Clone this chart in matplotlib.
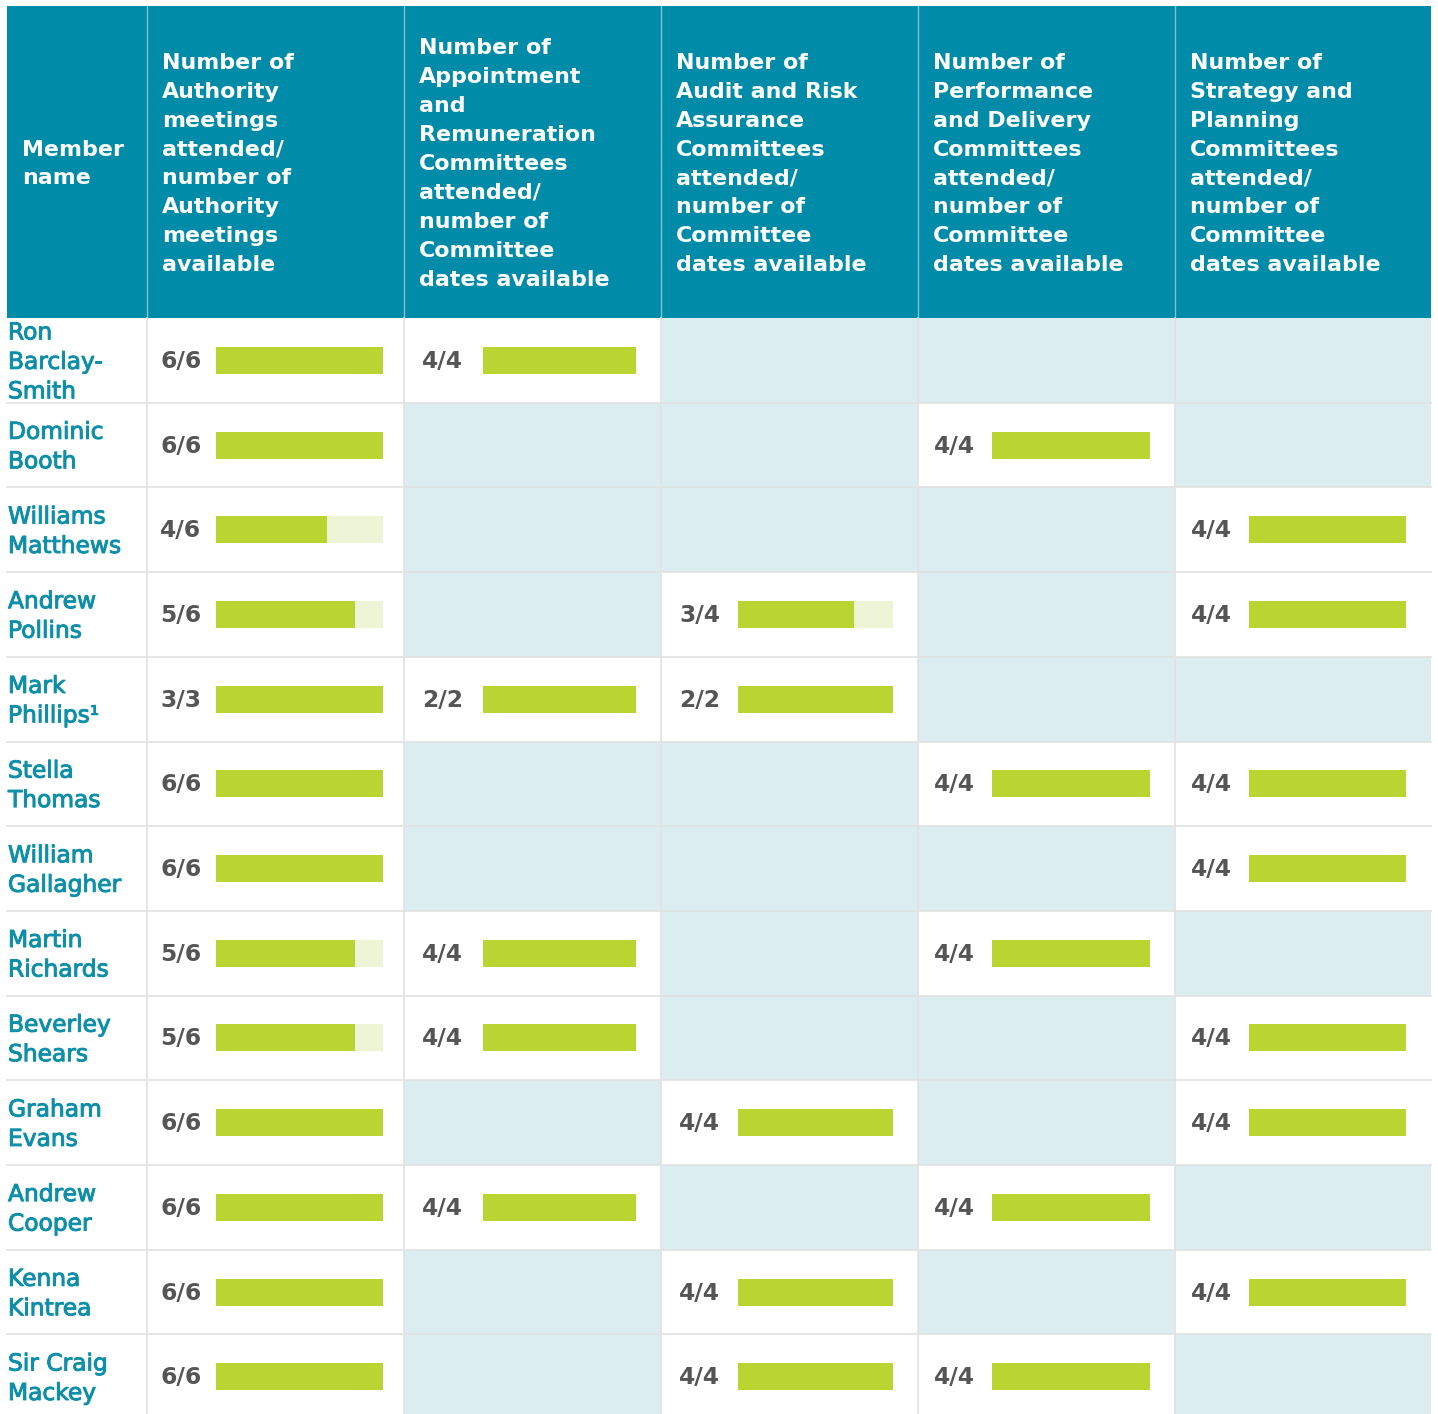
import matplotlib
matplotlib.use("Agg")
import matplotlib.pyplot as plt
import matplotlib.patheffects as pe
from matplotlib.patches import Rectangle

# ---- data -------------------------------------------------------------
NAMES = [
    "Ron\nBarclay-\nSmith", "Dominic\nBooth", "Williams\nMatthews", "Andrew\nPollins",
    "Mark\nPhillips\u00b9", "Stella\nThomas", "William\nGallagher", "Martin\nRichards",
    "Beverley\nShears", "Graham\nEvans", "Andrew\nCooper", "Kenna\nKintrea",
    "Sir Craig\nMackey",
]
HEADERS = [
    "Member\nname",
    "Number of\nAuthority\nmeetings\nattended/\nnumber of\nAuthority\nmeetings\navailable",
    "Number of\nAppointment\nand\nRemuneration\nCommittees\nattended/\nnumber of\nCommittee\ndates available",
    "Number of\nAudit and Risk\nAssurance\nCommittees\nattended/\nnumber of\nCommittee\ndates available",
    "Number of\nPerformance\nand Delivery\nCommittees\nattended/\nnumber of\nCommittee\ndates available",
    "Number of\nStrategy and\nPlanning\nCommittees\nattended/\nnumber of\nCommittee\ndates available",
]
# (attended, available); None = not a member of that committee
authority = [(6, 6), (6, 6), (4, 6), (5, 6), (3, 3), (6, 6), (6, 6),
             (5, 6), (5, 6), (6, 6), (6, 6), (6, 6), (6, 6)]
appointment = [(4, 4), None, None, None, (2, 2), None, None,
               (4, 4), (4, 4), None, (4, 4), None, None]
audit = [None, None, None, (3, 4), (2, 2), None, None,
         None, None, (4, 4), None, (4, 4), (4, 4)]
performance = [None, (4, 4), None, None, None, (4, 4), None,
               (4, 4), None, None, (4, 4), None, (4, 4)]
strategy = [None, None, (4, 4), (4, 4), None, (4, 4), (4, 4),
            None, (4, 4), (4, 4), None, (4, 4), None]
COLUMNS = [authority, appointment, audit, performance, strategy]

# ---- style ------------------------------------------------------------
HEAD_BG = "#008ca8"
EMPTY_BG = "#dcedf1"
GREEN = "#bad532"
PALE = "#eef5d6"
NAME_C = "#0e8fa9"
VAL_C = "#555555"
LINE_C = "#e2e2e2"
FONT = "DejaVu Sans"

W, H = 1438, 1414
COL_X = [7, 147, 404, 661, 918, 1175, 1431]
HEAD_TOP, HEAD_BOT = 6, 318
ROW_H = 84.7
TEXT_PAD = [13, 18, 18, 16, 16]
BAR_START = [69, 79, 77, 74, 74]
BAR_END = [21, 25, 25, 25, 25]
BAR_H = 27

fig = plt.figure(figsize=(W / 100, H / 100), dpi=100)
ax = fig.add_axes([0, 0, 1, 1])
ax.set_xlim(0, W)
ax.set_ylim(H, 0)
ax.axis("off")

# header
for j, lab in enumerate(HEADERS):
    x0, x1 = COL_X[j], COL_X[j + 1]
    ax.add_patch(Rectangle((x0, HEAD_TOP), x1 - x0, HEAD_BOT - HEAD_TOP,
                           facecolor=HEAD_BG, edgecolor="none"))
    ax.text(x0 + 15, (HEAD_TOP + HEAD_BOT) / 2 + 2, lab,
            color="white", fontsize=15.9, fontweight="bold", family=FONT,
            ha="left", va="center", linespacing=1.56)
for x in COL_X[1:-1]:
    ax.plot([x, x], [HEAD_TOP, HEAD_BOT], color="#7fc3d2", lw=1)

# body
n = len(NAMES)
thicken = [pe.withStroke(linewidth=0.7, foreground=NAME_C)]
for i, name in enumerate(NAMES):
    y0 = HEAD_BOT + i * ROW_H
    yc = y0 + ROW_H / 2
    ax.text(COL_X[0] + 1, yc + 2, name, color=NAME_C, fontsize=16.8,
            family=FONT, ha="left", va="center", linespacing=1.36,
            path_effects=thicken)
    for j, col in enumerate(COLUMNS):
        x0, x1 = COL_X[j + 1], COL_X[j + 2]
        val = col[i]
        if val is None:
            ax.add_patch(Rectangle((x0, y0), x1 - x0, ROW_H,
                                   facecolor=EMPTY_BG, edgecolor="none"))
            continue
        att, avail = val
        ax.text(x0 + TEXT_PAD[j], yc + 1, f"{att}/{avail}", color=VAL_C,
                fontsize=16.8, fontweight="bold", family=FONT,
                ha="left", va="center")
        bx0, bx1 = x0 + BAR_START[j], x1 - BAR_END[j]
        ax.add_patch(Rectangle((bx0, yc - BAR_H / 2), bx1 - bx0, BAR_H,
                               facecolor=PALE, edgecolor="none"))
        ax.add_patch(Rectangle((bx0, yc - BAR_H / 2), (bx1 - bx0) * att / avail,
                               BAR_H, facecolor=GREEN, edgecolor="none"))

# grid lines
for i in range(1, n + 1):
    y = HEAD_BOT + i * ROW_H
    ax.plot([COL_X[0], COL_X[-1]], [y, y], color=LINE_C, lw=1.2, zorder=5)
for x in COL_X[1:-1]:
    ax.plot([x, x], [HEAD_BOT, H], color=LINE_C, lw=1.2, zorder=5)

fig.savefig("out.png", dpi=100)
